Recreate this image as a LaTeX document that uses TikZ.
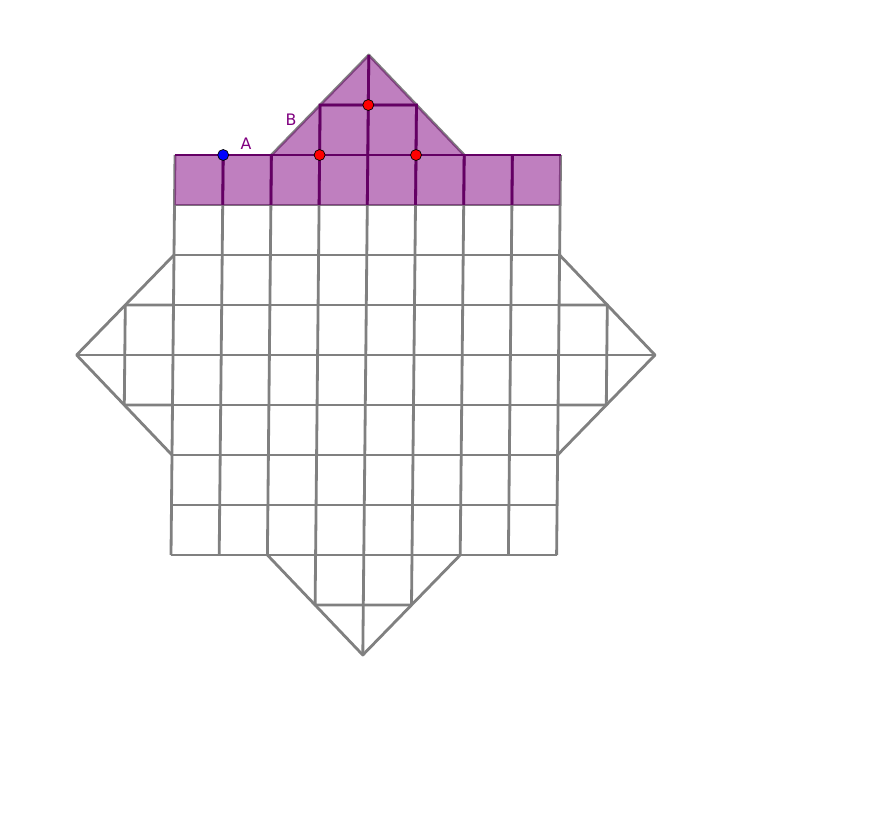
\documentclass[tikz,border=0pt]{standalone}
\usepackage{fontspec}
\setmainfont{DejaVu Sans}
\usetikzlibrary{positioning}

\definecolor{gridgray}{RGB}{128,128,128}
\definecolor{tilepurple}{RGB}{128,0,128}
\definecolor{edgepurple}{RGB}{100,0,100}

\begin{document}
\begin{tikzpicture}[x={(0.964cm,0cm)}, y={(0.01cm,1cm)},
                    gridline/.style={draw=gridgray, line width=1.6pt, line join=round},
                    tile/.style={fill=tilepurple, fill opacity=0.5},
                    tileedge/.style={draw=edgepurple, line width=1.6pt},
                    dot/.style={circle, draw=black, line width=0.4pt, inner sep=0pt, minimum size=0.22cm},
                    ptlabel/.style={text=tilepurple, font=\fontsize{9}{10}\selectfont, inner sep=1pt}]
   \useasboundingbox (-3.42cm,-5.54cm) rectangle (14.18cm,11.1cm);

   % square grid
   \foreach \i in {0,...,8} {
     \draw[gridline] (\i,0) -- (\i,8);
     \draw[gridline] (0,\i) -- (8,\i);
   }

   % the four spikes
   \draw[gridline] (0,2) -- (-2,4) -- (0,6);
   \draw[gridline] (0,3) -- (-1,3) -- (-1,5) -- (0,5);
   \draw[gridline] (-2,4) -- (0,4);
   \draw[gridline] (8,2) -- (10,4) -- (8,6);
   \draw[gridline] (8,3) -- (9,3) -- (9,5) -- (8,5);
   \draw[gridline] (10,4) -- (8,4);
   \draw[gridline] (2,0) -- (4,-2) -- (6,0);
   \draw[gridline] (3,0) -- (3,-1) -- (5,-1) -- (5,0);
   \draw[gridline] (4,-2) -- (4,0);
   \draw[gridline] (2,8) -- (4,10) -- (6,8);
   \draw[gridline] (3,8) -- (3,9) -- (5,9) -- (5,8);
   \draw[gridline] (4,8) -- (4,10);

   % purple tiles
   \fill[tile] (0,7) -- (8,7) -- (8,8) -- (6,8) -- (4,10) -- (2,8) -- (0,8) -- cycle;
   \foreach \i in {1,...,7}
     \draw[tileedge] (\i,7) -- (\i,8);
   \draw[tileedge] (0,8) -- (8,8);
   \draw[tileedge] (3,8) -- (3,9) -- (5,9) -- (5,8);
   \draw[tileedge] (4,8) -- (4,10);

   % points
   \node[dot, fill=blue] (A) at (1,8) {};
   \node[dot, fill=red] (P1) at (3,8) {};
   \node[dot, fill=red] (P2) at (5,8) {};
   \node[dot, fill=red] (P3) at (4,9) {};
   \node[ptlabel] (labelA) at (1.47,8.22) {A};
   \node[ptlabel] (labelB) at (2.4,8.7) {B};
\end{tikzpicture}
\end{document}
